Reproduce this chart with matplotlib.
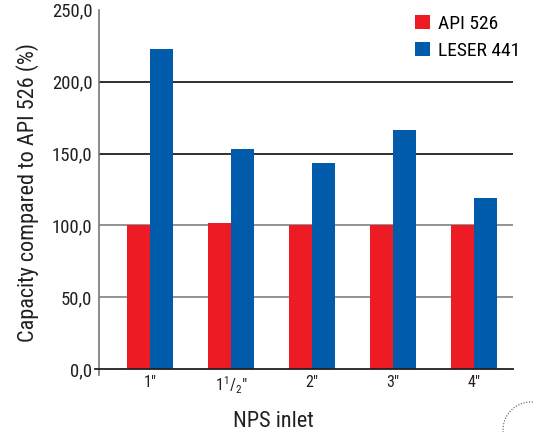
import matplotlib.pyplot as plt
import matplotlib.patches as mpatches
from matplotlib import font_manager as fm
import numpy as np

# pick a condensed sans if one is present, else plain Liberation Sans
font = 'Liberation Sans'
for cand in ['Roboto Condensed', 'Archivo Narrow', 'Liberation Sans Narrow']:
    try:
        fm.findfont(fm.FontProperties(family=cand), fallback_to_default=False)
        font = cand
        break
    except ValueError:
        pass

plt.rcParams['font.family'] = [font, 'DejaVu Sans']
plt.rcParams['mathtext.fontset'] = 'custom'
plt.rcParams['mathtext.rm'] = font
plt.rcParams['mathtext.it'] = font

sizes = ['1"', '1$^{1}$/$_{2}$"', '2"', '3"', '4"']
api526 = [100.3, 102.0, 100.3, 100.3, 100.3]
leser441 = [223.0, 153.2, 143.5, 166.4, 119.1]
yticks = [0, 50, 100, 150, 200, 250]

red = '#ED1C24'
blue = '#005BAA'

fig = plt.figure(figsize=(5.33, 4.32), dpi=100)
ax = fig.add_axes([0.1863, 0.1319, 0.7762, 0.8456])

x = np.arange(len(sizes))
w = 0.284
ax.bar(x - w / 2, api526, w, color=red, zorder=3, label='API 526')
ax.bar(x + w / 2, leser441, w, color=blue, zorder=3, label='LESER 441')

# gridlines, lighter ones behind the lower half
for v, c in [(50, '#8a8a8a'), (100, '#8a8a8a'), (150, '#231F20'), (200, '#231F20')]:
    ax.axhline(v, color=c, lw=1.3, zorder=1)
ax.plot([-0.68, 4.48], [0, 0], color='#231F20', lw=1.3, clip_on=False, zorder=4)

ax.set_xlim(-0.626, 4.48)
ax.set_ylim(-4, 250)
ax.set_yticks(yticks)
ax.set_yticklabels([f'{v:.1f}'.replace('.', ',') for v in yticks], fontsize=13.5, color='#231F20')
ax.set_xticks(x)
ax.set_xticklabels(sizes, fontsize=11.5, color='#231F20')
ax.tick_params(axis='both', length=0, pad=5)
ax.tick_params(axis='x', pad=0)

for s in ['top', 'right', 'bottom']:
    ax.spines[s].set_visible(False)
ax.spines['left'].set_color('#777777')
ax.spines['left'].set_linewidth(1.2)

ax.set_ylabel('Capacity compared to API 526 (%)', fontsize=16, color='#231F20', labelpad=9)
ax.set_xlabel('NPS inlet', fontsize=16, color='#231F20')
ax.xaxis.set_label_coords(0.421, -0.098)

ax.legend(loc='upper left', bbox_to_anchor=(415 / 533, 1 - 15 / 432), bbox_transform=fig.transFigure,
          frameon=False, fontsize=14, handlelength=0.77, handleheight=0.77,
          handletextpad=0.4, labelspacing=0.45, borderpad=0, borderaxespad=0)

# dotted circle decoration in the corner
circ = mpatches.Circle((531, 2), 28, transform=None, fill=False, ls=(0, (1, 1.5)),
                       lw=0.8, color='#555555')
fig.patches.append(circ)

fig.savefig('out.png', dpi=100)
